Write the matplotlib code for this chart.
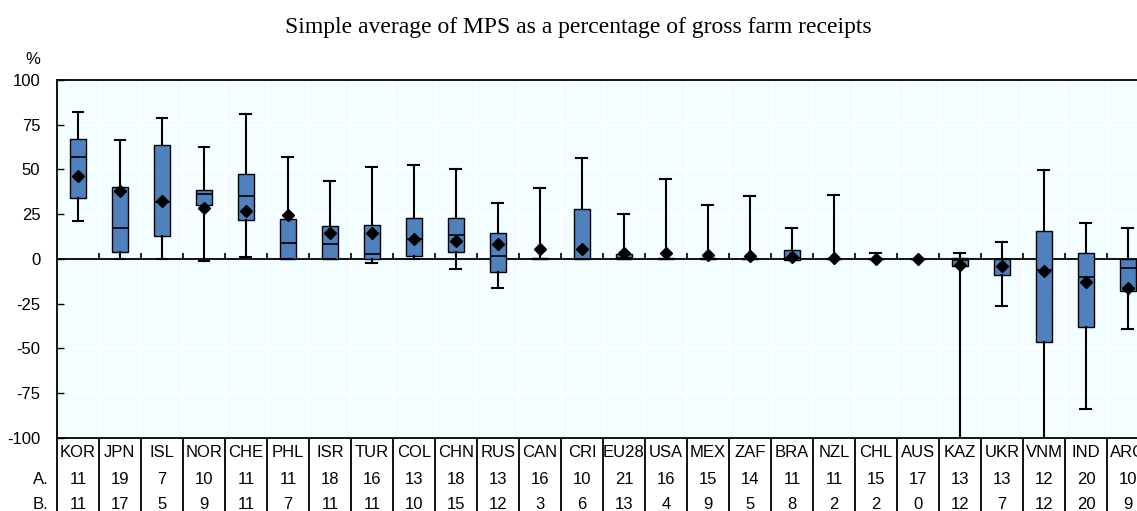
import numpy as np
import matplotlib
matplotlib.use("Agg")
import matplotlib.pyplot as plt

# Countries and box statistics (% of gross farm receipts)
countries = ["KOR", "JPN", "ISL", "NOR", "CHE", "PHL", "ISR", "TUR", "COL", "CHN",
             "RUS", "CAN", "CRI", "EU28", "USA", "MEX", "ZAF", "BRA", "NZL", "CHL",
             "AUS", "KAZ", "UKR", "VNM", "IND", "ARG"]
whis_hi = [81.9, 66.6, 78.7, 62.3, 81.1, 56.9, 43.8, 51.3, 52.6, 50.5,
           31.2, 39.9, 56.3, 25.0, 44.4, 30.0, 35.4, 17.5, 35.6, 3.4,
           0.0, 3.2, 9.7, 49.8, 20.1, 17.5]
q3 = [67.0, 40.1, 63.4, 38.6, 47.7, 22.2, 18.3, 19.0, 22.9, 23.1,
      14.4, 0.3, 27.8, 2.7, 0.3, 0.6, 0.6, 4.8, 0.2, 0.2,
      0.0, 0.5, 0.0, 15.9, 3.2, 0.0]
medians = [57.1, 17.5, 31.7, 36.4, 35.4, 9.0, 8.2, 3.0, 11.2, 13.6,
           1.9, 0.0, 0.0, 0.5, 0.0, 0.0, 0.0, 0.5, 0.0, 0.0,
           0.0, -0.5, 0.0, -6.2, -9.9, -5.0]
q1 = [34.0, 4.1, 12.7, 30.4, 21.8, 0.0, 0.0, 0.0, 1.5, 3.7,
      -7.5, 0.0, 0.0, 0.0, 0.0, 0.0, 0.0, -0.5, 0.0, 0.0,
      0.0, -3.8, -9.0, -46.6, -37.9, -17.7]
whis_lo = [21.1, 0.0, 0.0, -0.9, 1.1, 0.0, 0.0, -2.4, 0.0, -5.8,
           -16.2, 0.0, 0.0, 0.0, 0.0, 0.0, 0.0, -0.5, 0.0, 0.0,
           0.0, -110.0, -26.3, -110.0, -83.6, -39.0]
means = [46.3, 38.0, 32.3, 28.5, 26.7, 24.3, 14.7, 14.5, 11.0, 10.2,
         8.6, 5.6, 5.6, 3.5, 3.2, 2.4, 1.9, 1.3, 0.4, 0.0,
         0.0, -3.3, -3.7, -6.7, -12.9, -16.2]
row_a = [11, 19, 7, 10, 11, 11, 18, 16, 13, 18, 13, 16, 10, 21, 16, 15, 14, 11, 11, 15,
         17, 13, 13, 12, 20, 10]
row_b = [11, 17, 5, 9, 11, 7, 11, 11, 10, 15, 12, 3, 6, 13, 4, 9, 5, 8, 2, 2,
         0, 12, 7, 12, 20, 9]

plt.rcParams["font.family"] = ["Liberation Sans Narrow", "Liberation Sans", "DejaVu Sans"]
plt.rcParams["axes.unicode_minus"] = False
FS = 12

fig = plt.figure(figsize=(11.37, 5.11), dpi=100)
# axes runs a little past the right edge of the figure
ax = fig.add_axes([0.0501, 0.1429, 0.9604, 0.7006])
ax.set_facecolor("#F2FEFF")

n = len(countries)
x = np.arange(n)
bounds = np.arange(n + 1) - 0.5

stats = []
for i in range(n):
    stats.append(dict(label=countries[i], med=medians[i], q1=q1[i], q3=q3[i],
                      whislo=whis_lo[i], whishi=whis_hi[i], mean=means[i]))

ax.bxp(stats, positions=x, widths=0.4, showmeans=True, showfliers=False,
       patch_artist=True,
       boxprops=dict(facecolor="#4F81BD", edgecolor="black", linewidth=1.0),
       medianprops=dict(color="black", linewidth=1.2),
       whiskerprops=dict(color="black", linewidth=1.5),
       capprops=dict(color="black", linewidth=1.5),
       capwidths=0.26,
       meanprops=dict(marker="D", markerfacecolor="black", markeredgecolor="black",
                      markersize=6))

ax.set_xlim(-0.5, n - 0.5)
ax.set_ylim(-100, 100)
ax.set_yticks(np.arange(-100, 101, 25))
ax.set_xticks(bounds)
ax.set_xticklabels([])
ax.tick_params(axis="x", length=0)
ax.tick_params(axis="y", direction="in", length=5, width=1, pad=12, labelsize=FS)
ax.grid(True, color="white", linewidth=1.5, zorder=0)
ax.set_axisbelow(True)

# zero line with small ticks between countries
ax.axhline(0, color="black", linewidth=1.3, zorder=1)
ax.vlines(bounds[1:-1], 0, 3.2, color="black", linewidth=1.2, zorder=1)

for side in ["left", "top", "bottom", "right"]:
    ax.spines[side].set_linewidth(1.3)

# table of country codes and counts below the plot
trans = ax.get_xaxis_transform()
for i in range(n):
    ax.text(x[i], -0.04, countries[i], transform=trans, ha="center", va="center",
            fontsize=FS)
    ax.text(x[i], -0.115, str(row_a[i]), transform=trans, ha="center", va="center",
            fontsize=FS)
    ax.text(x[i], -0.185, str(row_b[i]), transform=trans, ha="center", va="center",
            fontsize=FS)
ax.vlines(bounds, -0.3, 0, transform=trans, color="black", linewidth=1.3,
          clip_on=False)
ax.text(-0.008, -0.115, "A.", transform=ax.transAxes, ha="right", va="center",
        fontsize=FS)
ax.text(-0.008, -0.185, "B.", transform=ax.transAxes, ha="right", va="center",
        fontsize=FS)

ax.text(-0.022, 1.056, "%", transform=ax.transAxes, ha="center", va="center",
        fontsize=FS)
fig.text(578 / 1137, 1 - 27 / 511, "Simple average of MPS as a percentage of gross farm receipts",
         ha="center", va="center", fontsize=17, family="Liberation Serif")

fig.savefig("out.png", dpi=100)
